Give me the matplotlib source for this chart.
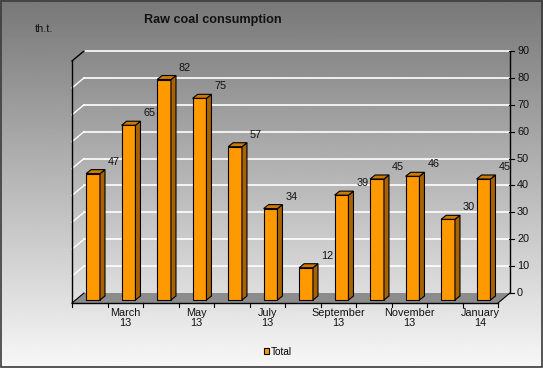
import numpy as np
import matplotlib.pyplot as plt
from matplotlib.patches import Polygon, Rectangle

plt.rcParams['font.family'] = ['Liberation Sans', 'DejaVu Sans']

months = ['February', 'March', 'April', 'May', 'June', 'July', 'August',
          'September', 'October', 'November', 'December', 'January']
years = ['13', '13', '13', '13', '13', '13', '13', '13', '13', '13', '13', '14']
total = [47, 65, 82, 75, 57, 34, 12, 39, 45, 46, 30, 45]
yticks = [0, 10, 20, 30, 40, 50, 60, 70, 80, 90]

W, H = 543, 368
fig = plt.figure(figsize=(W / 100, H / 100), dpi=100)

# tło z gradientem
bg = fig.add_axes([0, 0, 1, 1], zorder=0)
grad = np.linspace(0.47, 0.97, 256).reshape(-1, 1)
bg.imshow(grad, aspect='auto', cmap='gray', vmin=0, vmax=1, extent=[0, 1, 0, 1])
bg.set_xlim(0, 1)
bg.set_ylim(0, 1)
bg.axis('off')
bg.add_patch(Rectangle((0.001, 0.002), 0.997, 0.995, fill=False, ec='#3a3a3a', lw=1.2))

# płaszczyzna słupków (w pikselach: x 75..501, y 0 -> 300, 90 -> 58)
x0, x1 = 75.3, 501.3
ybot, ytop = 300, 58
ax = fig.add_axes([x0 / W, (H - ybot) / H, (x1 - x0) / W, (ybot - ytop) / H], zorder=1)
ax.set_xlim(0, 12)
ax.set_ylim(0, 90)
ax.axis('off')
ax.patch.set_alpha(0)

px = 12 / (x1 - x0)   # jednostki danych na piksel
py = 90 / (ybot - ytop)
bdx, bdy = 8.7 * px, 7 * py     # tylna ściana
fdx, fdy = -3.3 * px, -3 * py   # przednia krawędź
n = len(total)

# podłoga
ax.add_patch(Polygon([(fdx, fdy), (n + fdx, fdy), (n + bdx, bdy), (bdx, bdy)],
                     closed=True, fc='#8c8c8c', ec='none', clip_on=False, zorder=1))

# siatka tylnej i lewej ściany
for v in yticks[1:]:
    ax.plot([bdx, n + bdx], [v + bdy, v + bdy], color='white', lw=1.2, clip_on=False, zorder=1)
    ax.plot([fdx, bdx], [v + fdy, v + bdy], color='white' if v < 90 else 'black',
            lw=1.0, clip_on=False, zorder=1)

# lewa oś, przednia oś x
ax.plot([fdx, fdx], [fdy, 90 + fdy], color='black', lw=1.0, clip_on=False, zorder=2)
ax.plot([fdx, bdx], [fdy, bdy], color='black', lw=0.8, clip_on=False, zorder=2)
ax.plot([fdx, n + fdx], [fdy, fdy], color='black', lw=1.0, clip_on=False, zorder=2)
for i in range(n + 1):
    ax.plot([i + fdx, i + fdx], [fdy, fdy - 4 * py], color='black', lw=0.8,
            clip_on=False, zorder=2)
for i in range(1, n, 2):
    ax.text(i + 0.5 + fdx, fdy - 5 * py, months[i] + '\n' + years[i], ha='center',
            va='top', fontsize=7.8, linespacing=1.05, color='#111111', clip_on=False)

# prawa oś (z tyłu)
rx = n + bdx
ax.plot([rx, rx], [bdy, 90 + bdy], color='black', lw=1.0, clip_on=False, zorder=2)
ax.plot([rx, n + fdx], [bdy, fdy], color='black', lw=0.8, clip_on=False, zorder=2)
for v in yticks:
    ax.plot([rx - 1 * px, rx + 4 * px], [v + bdy, v + bdy], color='black', lw=0.8,
            clip_on=False, zorder=2)
    ax.text(rx + 7 * px, v + bdy, str(v), ha='left', va='center', fontsize=7.8,
            color='#111111', clip_on=False)

# słupki 3D
w = 0.39
sx, sy = 5 * px, 4 * py
xs = np.arange(n) + 0.5
bars = ax.bar(xs, total, width=w, color='#ff9900', edgecolor='black', lw=0.8,
              zorder=3, label='Total', clip_on=False)
for x, v in zip(xs, total):
    r, l = x + w / 2, x - w / 2
    ax.add_patch(Polygon([(r, 0), (r + sx, sy), (r + sx, v + sy), (r, v)], closed=True,
                         fc='#a86200', ec='black', lw=0.8, zorder=3, clip_on=False))
    ax.add_patch(Polygon([(l, v), (r, v), (r + sx, v + sy), (l + sx, v + sy)], closed=True,
                         fc='#cc7a00', ec='black', lw=0.8, zorder=3, clip_on=False))
    ax.annotate(str(v), (x, v), xytext=(15, 8.6), textcoords='offset points',
                ha='center', va='center', fontsize=7.8, color='#111111', zorder=4)

fig.text(212.5 / W, 1 - 19.5 / H, 'Raw coal consumption', ha='center', va='center',
         fontsize=9.1, fontweight='bold', color='#111111')
fig.text(35 / W, 1 - 28.5 / H, 'th.t.', ha='left', va='center', fontsize=7.8,
         color='#111111')

fig.legend(handles=[bars], loc='center', bbox_to_anchor=(278 / W, 1 - 352 / H),
           frameon=False, fontsize=7.2, handlelength=0.55, handleheight=0.55,
           handletextpad=0.2, borderpad=0)

fig.savefig('out.png', dpi=100)
